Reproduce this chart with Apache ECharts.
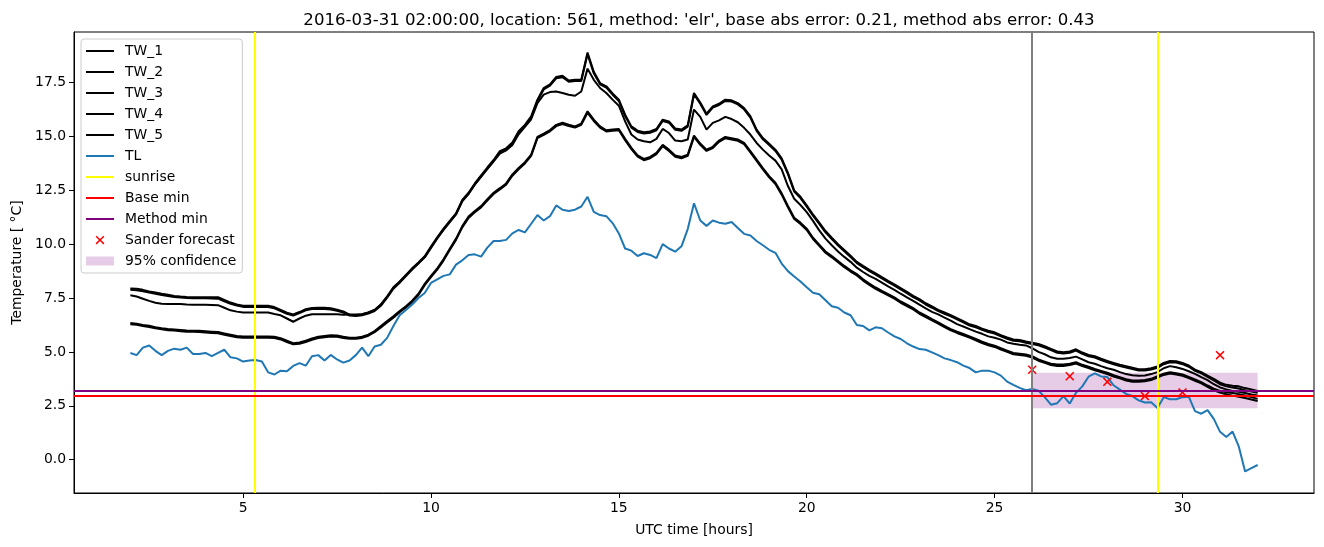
<!DOCTYPE html>
<html><head><meta charset="utf-8">
<script src="https://cdn.jsdelivr.net/npm/echarts@6/dist/echarts.min.js"></script>
<style>html,body{margin:0;padding:0;background:#fff}#c{width:1324px;height:547px}</style>
</head><body><div id="c"></div><script>
// time grid: 10-minute samples from 02:00 (hour 2) to hour 32
const T_START = 2, T_STEP_MIN = 10;

const TW_1 = [
7.94,7.93,7.88,7.81,7.76,7.70, 7.65,7.60,7.57,7.55,7.54,7.54, 7.54,7.54,7.54,7.41,7.29,7.20,
7.14,7.14,7.14,7.14,7.14,7.08, 6.95,6.82,6.74,6.85,6.98,7.04, 7.05,7.05,7.03,6.96,6.88,6.73,
6.71,6.75,6.83,6.95,7.20,7.58, 8.00,8.27,8.57,8.88,9.15,9.44, 9.89,10.32,10.72,11.08,11.43,12.06,
12.39,12.82,13.19,13.56,13.91,14.32, 14.45,14.72,15.24,15.54,15.94,16.71, 17.25,17.42,17.76,17.82,17.60,17.63,
17.63,18.90,18.00,17.48,17.33,17.00, 16.71,16.01,15.47,15.27,15.20,15.23, 15.35,15.78,15.70,15.37,15.32,15.52,
17.02,16.58,16.06,16.40,16.52,16.71, 16.68,16.55,16.32,15.94,15.32,14.93, 14.66,14.39,13.98,13.31,12.50,12.20,
11.80,11.38,11.00,10.61,10.30,10.00, 9.73,9.46,9.18,8.99,8.81,8.65, 8.47,8.30,8.14,7.96,7.79,7.60,
7.45,7.26,7.11,6.95,6.83,6.71, 6.57,6.43,6.28,6.20,6.08,5.98, 5.91,5.78,5.67,5.58,5.55,5.48,
5.43,5.37,5.26,5.14,5.02,4.98, 5.02,5.12,4.97,4.86,4.80,4.68, 4.58,4.49,4.40,4.34,4.27,4.20,
4.20,4.24,4.32,4.49,4.58,4.57, 4.49,4.37,4.18,4.06,3.90,3.75, 3.57,3.47,3.43,3.40,3.32,3.26,
3.19];
const TW_2 = [
7.88,7.86,7.82,7.76,7.70,7.64, 7.60,7.55,7.52,7.50,7.49,7.49, 7.49,7.48,7.47,7.35,7.23,7.15,
7.09,7.09,7.08,7.08,7.08,7.02, 6.90,6.77,6.69,6.80,6.93,6.99, 7.00,6.99,6.97,6.91,6.83,6.69,
6.67,6.70,6.78,6.90,7.14,7.52, 7.93,8.21,8.52,8.82,9.10,9.39, 9.83,10.27,10.66,11.02,11.38,12.00,
12.33,12.76,13.13,13.50,13.85,14.26, 14.39,14.66,15.18,15.48,15.88,16.64, 17.18,17.36,17.70,17.75,17.54,17.57,
17.57,18.82,17.93,17.42,17.27,16.94, 16.65,15.95,15.41,15.21,15.14,15.17, 15.29,15.72,15.64,15.31,15.26,15.46,
16.95,16.52,16.00,16.34,16.46,16.65, 16.62,16.49,16.26,15.88,15.26,14.87, 14.60,14.33,13.92,13.25,12.44,12.14,
11.74,11.32,10.94,10.55,10.24,9.94, 9.67,9.40,9.12,8.93,8.75,8.59, 8.41,8.24,8.08,7.90,7.73,7.54,
7.39,7.20,7.05,6.89,6.77,6.65, 6.51,6.37,6.22,6.14,6.02,5.92, 5.85,5.72,5.61,5.52,5.49,5.42,
5.37,5.31,5.20,5.08,4.96,4.92, 4.96,5.06,4.91,4.80,4.74,4.62, 4.52,4.43,4.34,4.28,4.21,4.14,
4.14,4.18,4.26,4.43,4.52,4.51, 4.43,4.31,4.12,4.00,3.84,3.68, 3.50,3.40,3.35,3.30,3.22,3.16,
3.10];
const TW_3 = [
7.63,7.57,7.47,7.37,7.28,7.24, 7.22,7.22,7.22,7.20,7.19,7.19, 7.19,7.18,7.17,7.05,6.93,6.87,
6.83,6.83,6.83,6.83,6.83,6.76, 6.70,6.55,6.40,6.55,6.68,6.75, 6.75,6.75,6.75,6.75,6.72,6.74,
6.74,6.75,6.83,6.95,7.20,7.55, 7.97,8.25,8.55,8.86,9.12,9.40, 9.85,10.28,10.68,11.04,11.40,12.00,
12.35,12.78,13.15,13.50,13.85,14.20, 14.35,14.60,15.10,15.45,15.80,16.55, 16.94,17.06,17.09,17.02,16.94,16.89,
17.09,18.15,17.63,17.25,17.02,16.71, 16.43,15.70,15.09,14.86,14.78,14.73, 14.89,15.35,15.16,14.81,14.78,14.86,
16.25,15.91,15.32,15.63,15.75,15.91, 15.81,15.66,15.40,15.09,14.70,14.39, 14.12,13.88,13.47,12.70,12.11,11.82,
11.49,11.08,10.64,10.26,9.95,9.66, 9.41,9.18,8.91,8.71,8.53,8.39, 8.22,8.04,7.88,7.70,7.53,7.37,
7.19,7.02,6.86,6.74,6.59,6.45, 6.29,6.18,6.06,5.94,5.84,5.72, 5.66,5.57,5.44,5.38,5.33,5.30,
5.17,5.00,4.89,4.75,4.68,4.68, 4.72,4.78,4.65,4.52,4.45,4.34, 4.24,4.17,4.06,3.97,3.92,3.89,
3.90,3.97,4.06,4.24,4.34,4.29, 4.21,4.10,3.98,3.83,3.69,3.50, 3.35,3.26,3.19,3.15,3.09,3.02,
2.98];
const TW_4 = [
6.34,6.31,6.25,6.21,6.15,6.10, 6.06,6.04,6.02,5.99,5.98,5.98, 5.96,5.94,5.92,5.86,5.80,5.74,
5.72,5.72,5.72,5.72,5.72,5.70, 5.64,5.52,5.40,5.44,5.52,5.62, 5.70,5.74,5.77,5.76,5.70,5.66,
5.66,5.70,5.80,5.97,6.20,6.43, 6.65,6.90,7.12,7.38,7.70,8.16, 8.53,8.88,9.30,9.79,10.26,10.84,
11.28,11.54,11.77,12.09,12.39,12.60, 12.82,13.24,13.54,13.81,14.16,14.98, 15.13,15.30,15.54,15.64,15.55,15.47,
15.60,16.17,15.78,15.47,15.29,15.32, 15.35,14.89,14.47,14.12,13.96,14.05, 14.24,14.61,14.39,14.12,14.05,14.16,
15.04,14.67,14.39,14.52,14.81,14.98, 14.92,14.86,14.70,14.32,13.93,13.53, 13.16,12.85,12.36,11.77,11.23,11.00,
10.72,10.30,9.98,9.66,9.45,9.22, 8.99,8.79,8.61,8.37,8.17,7.99, 7.83,7.68,7.53,7.34,7.19,7.03,
6.83,6.68,6.52,6.37,6.21,6.06, 5.94,5.83,5.72,5.60,5.47,5.37, 5.29,5.17,5.06,4.95,4.92,4.88,
4.80,4.65,4.55,4.45,4.41,4.41, 4.45,4.52,4.40,4.31,4.21,4.12, 4.03,3.92,3.83,3.73,3.67,3.67,
3.70,3.75,3.87,3.99,4.06,4.01, 3.95,3.84,3.72,3.60,3.44,3.29, 3.19,3.13,3.09,3.04,2.98,2.90,
2.82];
const TW_5 = [
6.28,6.26,6.20,6.15,6.10,6.05, 6.01,5.99,5.96,5.94,5.93,5.92, 5.90,5.88,5.86,5.80,5.74,5.68,
5.66,5.66,5.66,5.66,5.66,5.64, 5.58,5.46,5.35,5.38,5.46,5.56, 5.64,5.68,5.71,5.70,5.65,5.61,
5.61,5.65,5.75,5.92,6.14,6.37, 6.59,6.84,7.06,7.32,7.64,8.10, 8.47,8.82,9.24,9.73,10.20,10.78,
11.22,11.48,11.71,12.03,12.33,12.54, 12.76,13.18,13.48,13.75,14.10,14.92, 15.07,15.24,15.48,15.58,15.49,15.41,
15.54,16.10,15.72,15.41,15.23,15.26, 15.29,14.83,14.41,14.06,13.90,13.99, 14.18,14.55,14.33,14.06,13.99,14.10,
14.98,14.61,14.33,14.46,14.75,14.92, 14.86,14.80,14.64,14.26,13.87,13.47, 13.10,12.79,12.30,11.71,11.17,10.94,
10.66,10.24,9.92,9.60,9.39,9.16, 8.93,8.73,8.55,8.31,8.11,7.93, 7.77,7.62,7.47,7.28,7.13,6.97,
6.77,6.62,6.46,6.31,6.15,6.00, 5.88,5.77,5.66,5.54,5.41,5.31, 5.23,5.11,5.00,4.89,4.86,4.82,
4.74,4.59,4.49,4.39,4.35,4.35, 4.39,4.46,4.34,4.25,4.15,4.06, 3.97,3.86,3.77,3.67,3.61,3.61,
3.64,3.69,3.81,3.93,4.00,3.95, 3.89,3.78,3.66,3.54,3.38,3.22, 3.11,3.03,2.97,2.92,2.86,2.79,
2.72];
const TL = [
4.95,4.85,5.20,5.30,5.05,4.85, 5.05,5.15,5.10,5.20,4.90,4.90, 4.95,4.80,4.95,5.10,4.75,4.70,
4.55,4.60,4.62,4.55,4.05,3.95, 4.13,4.10,4.35,4.48,4.36,4.80, 4.85,4.60,4.86,4.65,4.50,4.60,
4.85,5.20,4.80,5.25,5.33,5.65, 6.20,6.70,6.95,7.20,7.50,7.73, 8.20,8.37,8.53,8.60,9.05,9.25,
9.50,9.53,9.42,9.84,10.15,10.15, 10.20,10.50,10.66,10.55,10.95,11.35, 11.10,11.30,11.80,11.60,11.54,11.60,
11.75,12.20,11.50,11.35,11.30,10.98, 10.50,9.80,9.70,9.45,9.58,9.50, 9.35,10.00,9.80,9.65,9.90,10.70,
11.90,11.10,10.85,11.10,11.00,10.95, 11.03,10.75,10.48,10.40,10.15,9.95, 9.74,9.60,9.10,8.75,8.50,8.27,
8.00,7.75,7.68,7.40,7.12,7.05, 6.83,6.70,6.25,6.20,6.00,6.14, 6.10,5.90,5.72,5.60,5.40,5.25,
5.13,5.10,4.98,4.85,4.70,4.62, 4.52,4.36,4.25,4.05,4.13,4.13, 4.05,3.90,3.62,3.47,3.33,3.22,
3.28,3.20,2.90,2.55,2.62,2.95, 2.60,3.10,3.40,3.85,4.00,3.86, 3.83,3.45,3.25,3.05,2.95,2.75,
2.65,2.66,2.40,2.90,2.80,2.80, 2.90,2.92,2.25,2.13,2.30,1.89, 1.29,1.05,1.30,0.60,-0.55,-0.40,
-0.25];

const forecastHours = [26, 27, 28, 29, 30, 31];
const forecastValues = [4.17, 3.87, 3.61, 2.95, 3.12, 4.85];
const sunriseHours = [5.32, 29.33];
const issueHour = 26;
const baseMin = 2.97;
const methodMin = 3.18;
const confHours = [26, 32];
const confRange = [2.38, 4.03];
const xTicks = [5, 10, 15, 20, 25, 30];
const yTicks = [0, 2.5, 5, 7.5, 10, 12.5, 15, 17.5];

const TITLE = "2016-03-31 02:00:00, location: 561, method: 'elr', base abs error: 0.21, method abs error: 0.43";
const FONT = 'DejaVu Sans';
const hours = TL.map((_, i) => T_START + i * T_STEP_MIN / 60);

const X_PATH = 'path://M1.2,0L5,3.8L8.8,0L10,1.2L6.2,5L10,8.8L8.8,10L5,6.2L1.2,10L0,8.8L3.8,5L0,1.2Z';
const X_LEGEND = 'path://M-3,-3L-3,-3M13,13L13,13M1.2,0L5,3.8L8.8,0L10,1.2L6.2,5L10,8.8L8.8,10L5,6.2L1.2,10L0,8.8L3.8,5L0,1.2Z';
const LINE_ICON = 'path://M0,0h28v2h-28z';

function lineSeries(name, vals, color, z) {
  return {
    name, type: 'line', data: vals.map((v, i) => [hours[i], v]),
    symbol: 'none', showSymbol: false, silent: true, z: z,
    lineStyle: { color, width: 2 }, itemStyle: { color }
  };
}
function vLineSeries(name, xs, color, z) {
  return {
    name, type: 'line', data: [], symbol: 'none', z: z,
    lineStyle: { color, width: 2 }, itemStyle: { color },
    markLine: { silent: true, symbol: ['none', 'none'], label: { show: false }, animation: false,
      lineStyle: { color, width: 2, type: 'solid' }, emphasis: { disabled: true },
      data: xs.map(x => ({ xAxis: x })) }
  };
}
function hLineSeries(name, y, color, z) {
  return {
    name, type: 'line', data: [], symbol: 'none', z: z,
    lineStyle: { color, width: 2 }, itemStyle: { color },
    markLine: { silent: true, symbol: ['none', 'none'], label: { show: false }, animation: false,
      lineStyle: { color, width: 2, type: 'solid' }, emphasis: { disabled: true },
      data: [{ yAxis: y }] }
  };
}
const CONF_COLOR = 'rgba(128,0,128,0.2)';
const lineLegend = n => ({ name: n, icon: LINE_ICON });

const chart = echarts.init(document.getElementById('c'), null, { renderer: 'canvas' });
chart.setOption({
  animation: false,
  backgroundColor: '#ffffff',
  title: {
    text: TITLE, left: 694, textAlign: 'center', top: 7,
    textStyle: { fontFamily: FONT, fontSize: 16.6, fontWeight: 'normal', color: '#000' }
  },
  grid: { left: 74, right: 10, top: 32, bottom: 54, show: true, borderColor: '#000', borderWidth: 1, backgroundColor: 'transparent' },
  legend: {
    orient: 'vertical', left: 81, top: 39, padding: [5, 6, 5, 5],
    itemWidth: 28, itemHeight: 14, itemGap: 7, selectedMode: false,
    backgroundColor: 'rgba(255,255,255,0.8)', borderColor: '#cccccc', borderWidth: 1, borderRadius: 3,
    textStyle: { fontFamily: FONT, fontSize: 13.9, color: '#000', padding: [0, 0, 0, 6] },
    data: ['TW_1', 'TW_2', 'TW_3', 'TW_4', 'TW_5', 'TL', 'sunrise', 'Base min', 'Method min'].map(lineLegend).concat([
      { name: 'Sander forecast', icon: X_LEGEND },
      { name: '95% confidence', icon: 'path://M0,0h28v9h-28z' }])
  },
  xAxis: {
    type: 'value', min: 0.5, max: 33.5,
    splitLine: { show: false },
    axisLine: { show: true, onZero: false, lineStyle: { color: '#000', width: 1 } },
    axisTick: { show: true, length: 5, customValues: xTicks, lineStyle: { color: '#000' } },
    axisLabel: { customValues: xTicks, color: '#000', fontFamily: FONT, fontSize: 13.9, margin: 8, formatter: v => String(v) },
    name: 'UTC time [hours]', nameLocation: 'middle', nameGap: 30,
    nameTextStyle: { fontFamily: FONT, fontSize: 13.9, color: '#000' }
  },
  yAxis: {
    type: 'value', min: -1.55, max: 19.85,
    splitLine: { show: false },
    axisLine: { show: true, onZero: false, lineStyle: { color: '#000', width: 1 } },
    axisTick: { show: true, length: 5, customValues: yTicks, lineStyle: { color: '#000' } },
    axisLabel: { customValues: yTicks, color: '#000', fontFamily: FONT, fontSize: 13.9, margin: 8, formatter: v => Number(v).toFixed(1) },
    name: 'Temperature [ °C]', nameLocation: 'middle', nameGap: 48,
    nameTextStyle: { fontFamily: FONT, fontSize: 13.9, color: '#000' }
  },
  series: [
    {
      name: '95% confidence', type: 'line', data: [], symbol: 'none', z: 1,
      lineStyle: { color: CONF_COLOR }, itemStyle: { color: CONF_COLOR },
      markArea: { silent: true, itemStyle: { color: CONF_COLOR }, emphasis: { disabled: true },
        data: [[{ xAxis: confHours[0], yAxis: confRange[0] }, { xAxis: confHours[1], yAxis: confRange[1] }]] }
    },
    lineSeries('TW_1', TW_1, '#000000', 2),
    lineSeries('TW_2', TW_2, '#000000', 2),
    lineSeries('TW_3', TW_3, '#000000', 2),
    lineSeries('TW_4', TW_4, '#000000', 2),
    lineSeries('TW_5', TW_5, '#000000', 2),
    lineSeries('TL', TL, '#1f77b4', 3),
    vLineSeries('sunrise', sunriseHours, '#ffff00', 3),
    vLineSeries('issue', [issueHour], '#808080', 3),
    hLineSeries('Base min', baseMin, '#ff0000', 3),
    hLineSeries('Method min', methodMin, '#800080', 3),
    {
      name: 'Sander forecast', type: 'scatter', z: 4, silent: true,
      data: forecastHours.map((h, i) => [h, forecastValues[i]]),
      symbol: X_PATH, symbolSize: 9, itemStyle: { color: '#ff0000', opacity: 1 }
    }
  ]
});
</script></body></html>
